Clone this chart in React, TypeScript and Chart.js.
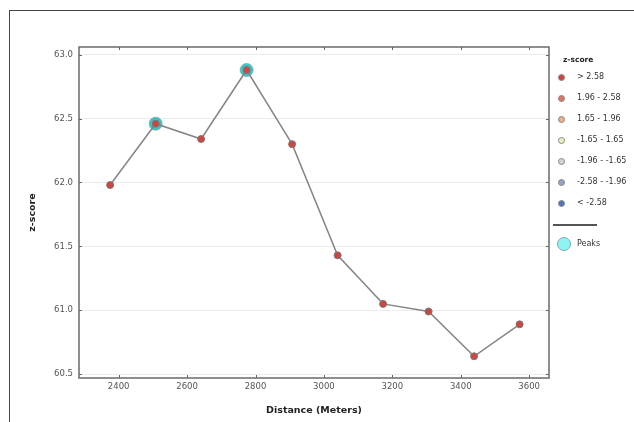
import React, { useEffect, useRef } from "react";
import { Chart, registerables } from "chart.js";

Chart.register(...registerables);

const distances = [2375, 2508, 2641, 2774, 2907, 3040, 3173, 3306, 3439, 3572];
const zValues = [61.98, 62.46, 62.34, 62.88, 62.30, 61.43, 61.05, 60.99, 60.64, 60.89];
const peakDistances = [2508, 2774];
const peakValues = [62.46, 62.88];
const xTickValues = [2400, 2600, 2800, 3000, 3200, 3400, 3600];
const yTickValues = [60.5, 61.0, 61.5, 62.0, 62.5, 63.0];
const legendLabels = ["> 2.58", "1.96 - 2.58", "1.65 - 1.96", "-1.65 - 1.65", "-1.96 - -1.65", "-2.58 - -1.96", "< -2.58"];
const legendColors = ["#d0453f", "#e0755c", "#eeb083", "#ededbd", "#d4d4cc", "#93a3c6", "#4f76b8"];

const FONT = "'DejaVu Sans', sans-serif";

const framePlugin = {
  id: "framePlugin",
  afterDraw(chart: any) {
    const { ctx, chartArea } = chart;
    const { left, right, top, bottom } = chartArea;
    const xs = chart.scales.x;
    const ys = chart.scales.y;
    ctx.save();
    ctx.strokeStyle = "#666";
    ctx.lineWidth = 1;
    const tl = 3;
    ctx.beginPath();
    xTickValues.forEach((v) => {
      const px = Math.round(xs.getPixelForValue(v)) + 0.5;
      ctx.moveTo(px, bottom);
      ctx.lineTo(px, bottom - tl);
      ctx.moveTo(px, top);
      ctx.lineTo(px, top + tl);
    });
    yTickValues.forEach((v) => {
      const py = Math.round(ys.getPixelForValue(v)) + 0.5;
      ctx.moveTo(left, py);
      ctx.lineTo(left + tl, py);
      ctx.moveTo(right, py);
      ctx.lineTo(right - tl, py);
    });
    ctx.stroke();
    ctx.lineWidth = 1.5;
    ctx.strokeStyle = "#6a6a6a";
    ctx.strokeRect(left, top, right - left, bottom - top);
    ctx.restore();
  },
};

export default function App() {
  const ref = useRef<HTMLCanvasElement>(null);
  useEffect(() => {
    document.body.style.margin = "0";
    const line = distances.map((d, i) => ({ x: d, y: zValues[i] }));
    const peaks = peakDistances.map((d, i) => ({ x: d, y: peakValues[i] }));
    const chart = new Chart(ref.current!, {
      type: "scatter",
      data: {
        datasets: [
          {
            label: "z-score",
            data: line,
            showLine: true,
            borderColor: "#858585",
            borderWidth: 1.5,
            pointRadius: 3.5,
            pointBackgroundColor: "#d0453f",
            pointBorderColor: "#7a7a7a",
            pointBorderWidth: 1,
            order: 1,
          },
          {
            label: "Peaks",
            data: peaks,
            showLine: false,
            pointRadius: 6.5,
            pointBackgroundColor: "#33c6c6",
            pointBorderColor: "#8ab0b0",
            pointBorderWidth: 1,
            order: 2,
          },
        ],
      },
      options: {
        animation: false,
        responsive: false,
        layout: { padding: { top: 47, right: 85, left: 0, bottom: 0 } },
        plugins: { legend: { display: false }, tooltip: { enabled: false } },
        scales: {
          x: {
            type: "linear",
            min: 2284,
            max: 3658,
            afterBuildTicks: (s: any) => {
              s.ticks = xTickValues.map((v) => ({ value: v }));
            },
            afterFit: (s: any) => {
              s.height = 44;
            },
            grid: { display: false, drawTicks: false },
            border: { display: false },
            ticks: {
              color: "#555",
              font: { family: FONT, size: 8.5 },
              padding: 4,
              callback: (v: any) => String(v),
            },
            title: {
              display: true,
              text: "Distance (Meters)",
              color: "#222",
              font: { family: FONT, size: 9.5, weight: "bold" },
              padding: { top: 4, bottom: 6 },
            },
          },
          y: {
            type: "linear",
            min: 60.47,
            max: 63.06,
            afterBuildTicks: (s: any) => {
              s.ticks = yTickValues.map((v) => ({ value: v }));
            },
            afterFit: (s: any) => {
              s.width = 79;
            },
            grid: { color: "#ececec", drawTicks: false },
            border: { display: false },
            ticks: {
              color: "#555",
              font: { family: FONT, size: 8.5 },
              padding: 6,
              callback: (v: any) => Number(v).toFixed(1),
            },
            title: {
              display: true,
              text: "z-score",
              color: "#222",
              font: { family: FONT, size: 9.5, weight: "bold" },
              padding: { top: 27, bottom: 0 },
            },
          },
        },
      },
      plugins: [framePlugin],
    } as any);
    return () => chart.destroy();
  }, []);

  const rowY = [77, 98, 119, 140, 161, 182, 203];
  return (
    <div style={{ position: "relative", width: 634, height: 422, overflow: "hidden", background: "#fff" }}>
      <div
        style={{
          position: "absolute",
          left: 9,
          top: 10,
          width: 640,
          height: 420,
          borderTop: "1.5px solid #444",
          borderLeft: "1.5px solid #444",
        }}
      />
      <canvas ref={ref} width={634} height={422} style={{ position: "absolute", left: 0, top: 0 }} />
      <div
        style={{
          position: "absolute",
          left: 563,
          top: 55,
          font: `bold 7.5px ${FONT}`,
          color: "#222",
        }}
      >
        z-score
      </div>
      {legendLabels.map((lab, i) => (
        <React.Fragment key={lab}>
          <div
            style={{
              position: "absolute",
              left: 558,
              top: rowY[i] - 3,
              width: 5,
              height: 5,
              borderRadius: "50%",
              background: legendColors[i],
              border: "0.8px solid #888",
            }}
          />
          <div
            style={{
              position: "absolute",
              left: 577,
              top: rowY[i] - 5,
              font: `8px ${FONT}`,
              color: "#333",
              whiteSpace: "nowrap",
            }}
          >
            {lab}
          </div>
        </React.Fragment>
      ))}
      <div style={{ position: "absolute", left: 553, top: 224, width: 44, height: 1.5, background: "#555" }} />
      <div
        style={{
          position: "absolute",
          left: 557,
          top: 237,
          width: 12,
          height: 12,
          borderRadius: "50%",
          background: "#8ff3f3",
          border: "1px solid #7ab",
        }}
      />
      <div
        style={{
          position: "absolute",
          left: 577,
          top: 239,
          font: `8px ${FONT}`,
          color: "#333",
        }}
      >
        Peaks
      </div>
    </div>
  );
}
